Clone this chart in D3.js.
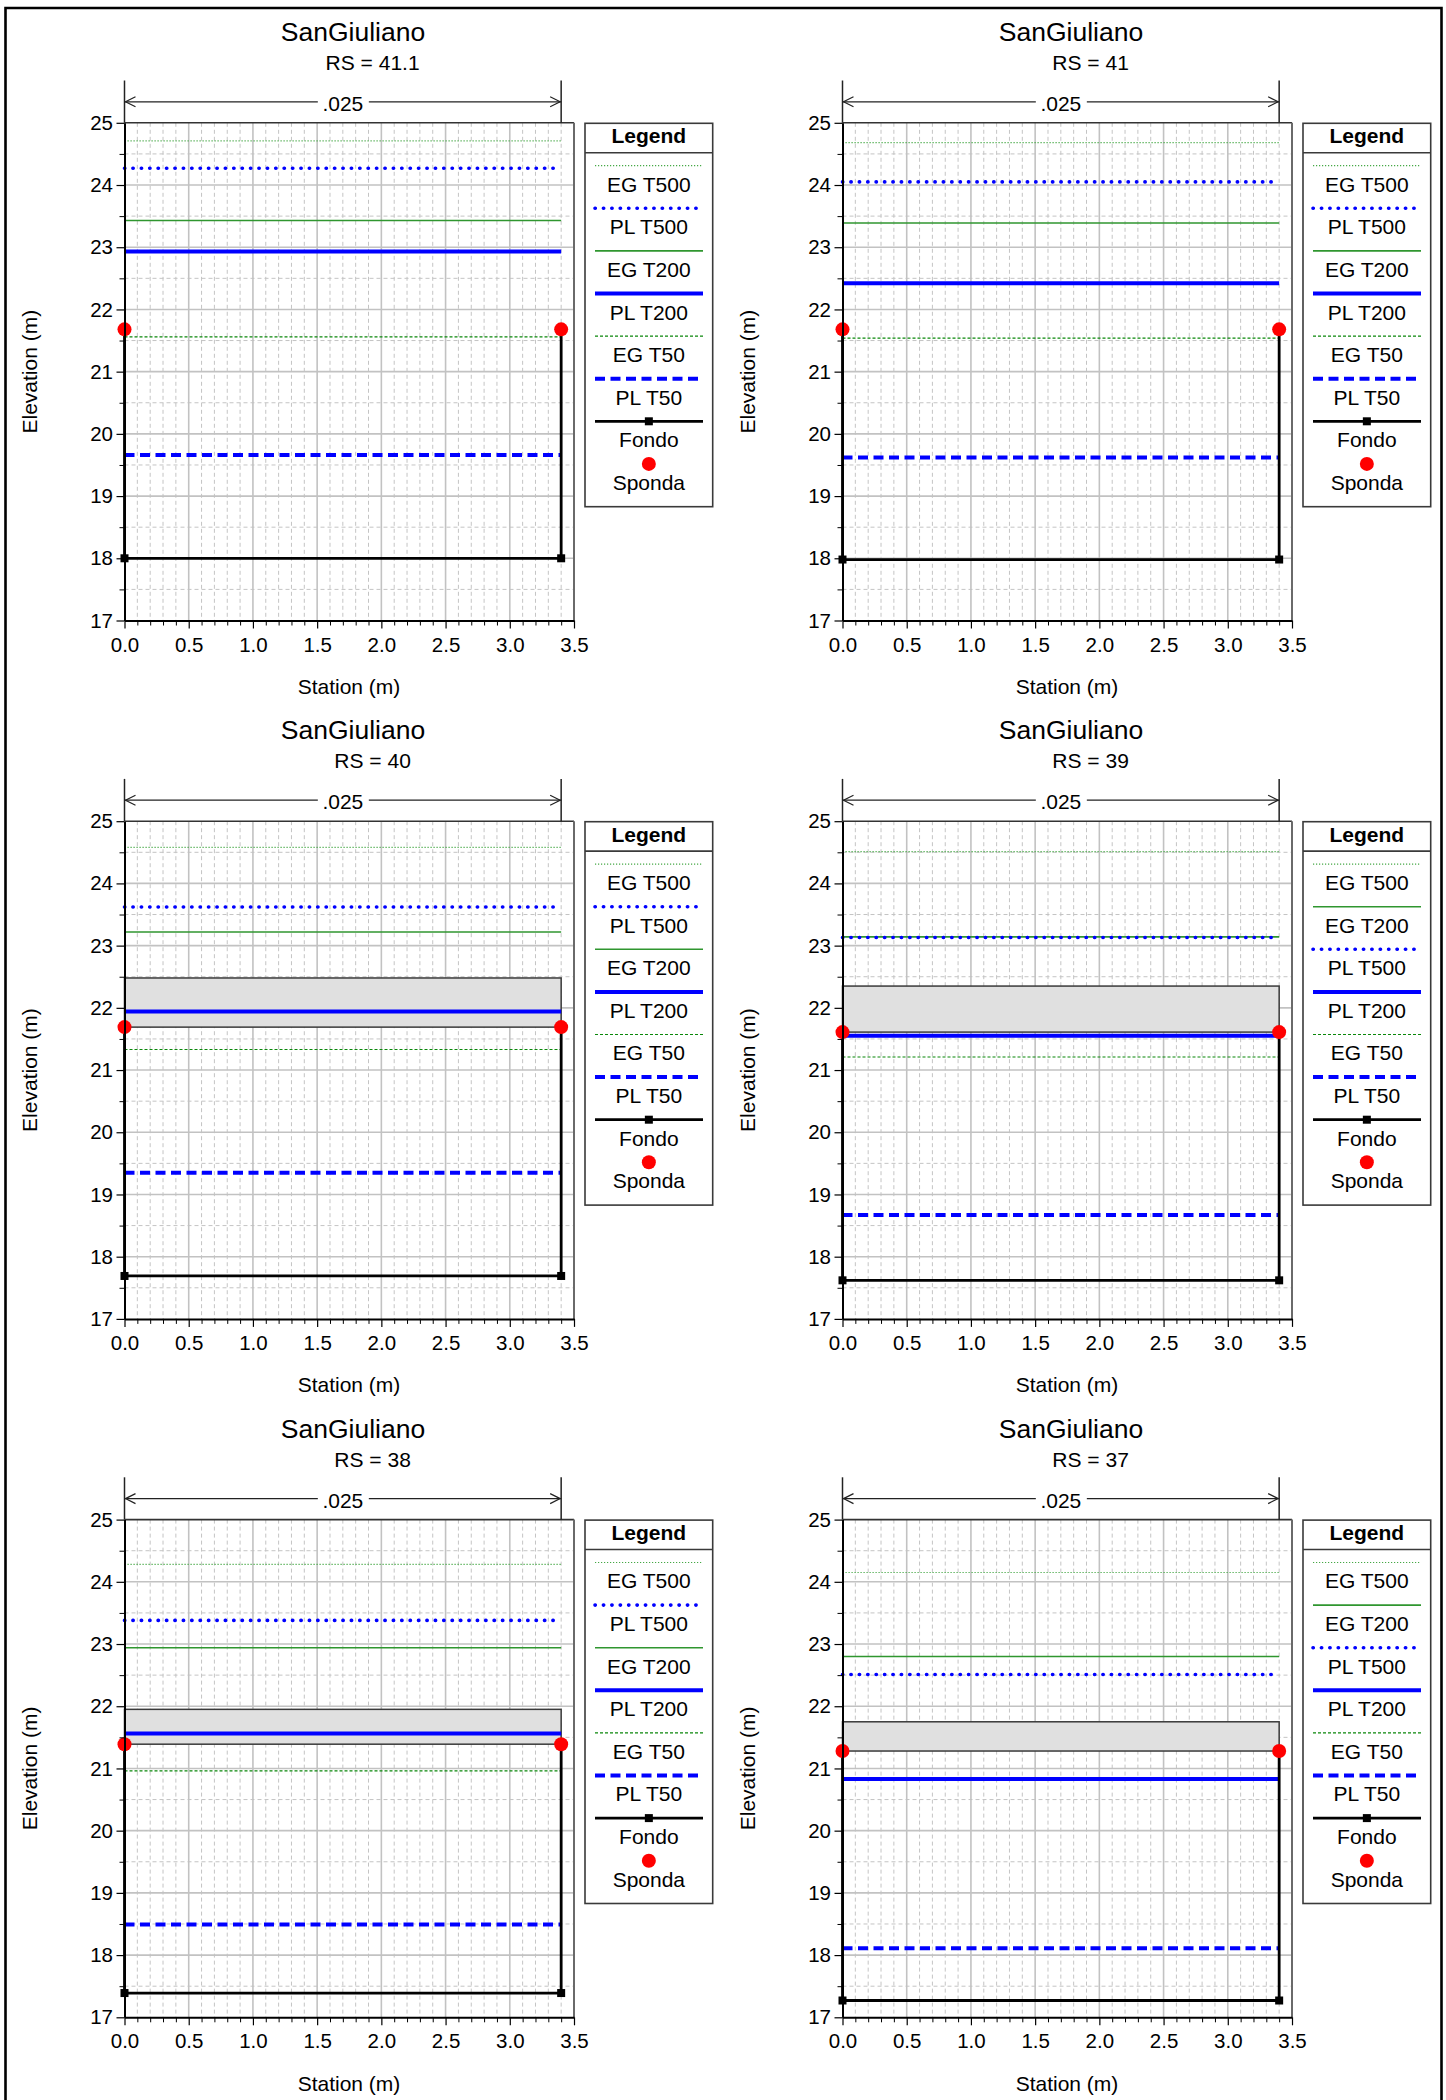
<!DOCTYPE html>
<html>
<head>
<meta charset="utf-8">
<script src="https://cdn.jsdelivr.net/npm/d3@7"></script>
<style>
  html, body { margin: 0; padding: 0; background: #fff; }
  svg { display: block; }
  text { font-family: "Liberation Sans", Arial, sans-serif; fill: #000; }
</style>
</head>
<body>
<svg id="chart" width="1446" height="2100"></svg>
<script>
// ---------------- DATA ----------------
const titleText = "SanGiuliano";
const rsLabels = ["41.1", "41", "40", "39", "38", "37"];
const nValue = ".025";
const bankStations = [0, 3.4];
const egT500 = [24.71, 24.68, 24.58, 24.51, 24.28, 24.15];
const plT500 = [24.27, 24.05, 23.62, 23.13, 23.38, 22.51];
const egT200 = [23.43, 23.39, 23.22, 23.14, 22.94, 22.80];
const plT200 = [22.93, 22.42, 21.94, 21.55, 21.56, 20.83];
const egT50  = [21.56, 21.54, 21.33, 21.21, 20.96, 20.83];
const plT50  = [19.66, 19.62, 19.35, 18.67, 18.49, 18.11];
const fondo  = [18.00, 17.98, 17.69, 17.62, 17.39, 17.27];
const sponda = [21.68, 21.68, 21.69, 21.61, 21.39, 21.28];
const deckHigh = [null, null, 22.48, 22.35, 21.95, 21.75];
const deckLow  = [null, null, 21.69, 21.61, 21.39, 21.28];
const legendOrderA = ["EG T500", "PL T500", "EG T200", "PL T200", "EG T50", "PL T50", "Fondo", "Sponda"];
const legendOrderB = ["EG T500", "EG T200", "PL T500", "PL T200", "EG T50", "PL T50", "Fondo", "Sponda"];
const legendOrders = [legendOrderA, legendOrderA, legendOrderA, legendOrderB, legendOrderA, legendOrderB];
const xTicks = [0, 0.5, 1.0, 1.5, 2.0, 2.5, 3.0, 3.5];
const yTicks = [17, 18, 19, 20, 21, 22, 23, 24, 25];

// ---------------- STYLES ----------------
const lineStyles = {
  "EG T500": { values: egT500, stroke: "#45a845", width: 1.2, dash: "1.2 1.8", cap: "butt" },
  "EG T200": { values: egT200, stroke: "#2f962f", width: 1.6, dash: null, cap: "butt" },
  "EG T50":  { values: egT50,  stroke: "#0a870a", width: 1.2, dash: "3 2", cap: "butt" },
  "PL T500": { values: plT500, stroke: "#0000ff", width: 3.6, dash: "0.3 8.1", cap: "round" },
  "PL T200": { values: plT200, stroke: "#0000ff", width: 4, dash: null, cap: "butt" },
  "PL T50":  { values: plT50,  stroke: "#0000ff", width: 4, dash: "10 5.5", cap: "butt" }
};
const drawOrder = ["EG T500", "EG T200", "EG T50", "PL T500", "PL T200", "PL T50"];

const svg = d3.select("#chart");
svg.append("rect").attr("width", 1446).attr("height", 2100).attr("fill", "#fff");
// outer frame
svg.append("path")
  .attr("d", "M5.5,2110 L5.5,8 L1441.5,8 L1441.5,2110")
  .attr("fill", "none").attr("stroke", "#000").attr("stroke-width", 2.6);

const colOff = [0, 718];
const rowOff = [0, 698.4, 1396.8];
const FONT = "'Liberation Sans', Arial, sans-serif";

rsLabels.forEach((rs, i) => {
  const col = i % 2, row = Math.floor(i / 2);
  const g = svg.append("g").attr("transform", `translate(${colOff[col]},${rowOff[row]})`);
  const x = d3.scaleLinear().domain([0, 3.5]).range([124.5, 574]);
  const y = d3.scaleLinear().domain([17, 25]).range([620.5, 122.8]);
  const [x0, x1] = x.range();
  const [yb, yt] = y.range();

  // titles
  g.append("text").attr("x", 353).attr("y", 40.8).attr("text-anchor", "middle")
    .attr("font-size", 26.5).text(titleText);
  g.append("text").attr("x", 372.6).attr("y", 70).attr("text-anchor", "middle")
    .attr("font-size", 21).text("RS = " + rs);

  // grid - minor
  const minorX = d3.range(1, 35).filter(k => k % 5 !== 0).map(k => k / 10);
  const minorY = d3.range(17.5, 25, 1);
  const grid = g.append("g");
  grid.selectAll("line.mx").data(minorX).join("line")
    .attr("x1", d => x(d)).attr("x2", d => x(d)).attr("y1", yt).attr("y2", yb)
    .attr("stroke", "#c4c4c4").attr("stroke-width", 1).attr("stroke-dasharray", "4 3");
  grid.selectAll("line.my").data(minorY).join("line")
    .attr("y1", d => y(d)).attr("y2", d => y(d)).attr("x1", x0).attr("x2", x1)
    .attr("stroke", "#c4c4c4").attr("stroke-width", 1).attr("stroke-dasharray", "4 3");
  // grid - major
  grid.selectAll("line.Mx").data(xTicks.slice(1, -1)).join("line")
    .attr("x1", d => x(d)).attr("x2", d => x(d)).attr("y1", yt).attr("y2", yb)
    .attr("stroke", "#c2c2c2").attr("stroke-width", 1.6);
  grid.selectAll("line.My").data(yTicks.slice(1, -1)).join("line")
    .attr("y1", d => y(d)).attr("y2", d => y(d)).attr("x1", x0).attr("x2", x1)
    .attr("stroke", "#c2c2c2").attr("stroke-width", 1.6);

  // frame top/right
  g.append("line").attr("x1", x0).attr("x2", x1).attr("y1", yt).attr("y2", yt)
    .attr("stroke", "#333").attr("stroke-width", 1.6);
  g.append("line").attr("x1", x1).attr("x2", x1).attr("y1", yt).attr("y2", yb)
    .attr("stroke", "#6a6a6a").attr("stroke-width", 2);

  // deck (gray block)
  if (deckHigh[i] !== null) {
    g.append("rect")
      .attr("x", x(bankStations[0])).attr("width", x(bankStations[1]) - x(bankStations[0]))
      .attr("y", y(deckHigh[i])).attr("height", y(deckLow[i]) - y(deckHigh[i]))
      .attr("fill", "#e0e0e0").attr("stroke", "#3a3a3a").attr("stroke-width", 1.5);
  }

  // water / energy lines
  drawOrder.forEach(name => {
    const s = lineStyles[name];
    const v = s.values[i];
    const l = g.append("line")
      .attr("x1", x(bankStations[0])).attr("x2", x(bankStations[1]))
      .attr("y1", y(v)).attr("y2", y(v))
      .attr("stroke", s.stroke).attr("stroke-width", s.width)
      .attr("stroke-linecap", s.cap);
    if (s.dash) l.attr("stroke-dasharray", s.dash);
  });

  // ground (Fondo)
  const groundPts = [
    [bankStations[0], sponda[i]], [bankStations[0], fondo[i]],
    [bankStations[1], fondo[i]], [bankStations[1], sponda[i]]
  ];
  g.append("path").attr("d", d3.line().x(d => x(d[0])).y(d => y(d[1]))(groundPts))
    .attr("fill", "none").attr("stroke", "#000").attr("stroke-width", 2.8);
  g.selectAll("rect.gm").data(groundPts).join("rect")
    .attr("x", d => x(d[0]) - 4).attr("y", d => y(d[1]) - 4)
    .attr("width", 8).attr("height", 8).attr("fill", "#000");
  // banks (Sponda)
  g.selectAll("circle.bk").data(bankStations).join("circle")
    .attr("cx", d => x(d)).attr("cy", y(sponda[i])).attr("r", 7).attr("fill", "#ff0000");

  // axes
  const xAxis = g.append("g").attr("transform", `translate(0,${yb})`)
    .call(d3.axisBottom(x).tickValues(xTicks).tickFormat(d3.format(".1f"))
      .tickSize(8).tickSizeOuter(0).tickPadding(8.5));
  const xMinor = g.append("g").attr("transform", `translate(0,${yb})`)
    .call(d3.axisBottom(x).tickValues(minorX).tickFormat("").tickSize(5).tickSizeOuter(0));
  xMinor.select(".domain").remove();
  const yAxis = g.append("g").attr("transform", `translate(${x0},0)`)
    .call(d3.axisLeft(y).tickValues(yTicks).tickFormat(d3.format("d"))
      .tickSize(8).tickSizeOuter(0).tickPadding(3.5));
  const yMinor = g.append("g").attr("transform", `translate(${x0},0)`)
    .call(d3.axisLeft(y).tickValues(minorY).tickFormat("").tickSize(5).tickSizeOuter(0));
  yMinor.select(".domain").remove();
  [xAxis, yAxis].forEach(a => {
    a.attr("font-size", 20.5).attr("font-family", FONT);
    a.select(".domain").attr("stroke", "#000").attr("stroke-width", 2);
    a.selectAll(".tick line").attr("stroke", "#000").attr("stroke-width", 1.2);
    a.selectAll(".tick text").attr("fill", "#000");
  });
  [xMinor, yMinor].forEach(a => a.selectAll(".tick line").attr("stroke", "#000").attr("stroke-width", 1));

  // axis titles
  g.append("text").attr("x", 349).attr("y", 694).attr("text-anchor", "middle")
    .attr("font-size", 21).text("Station (m)");
  g.append("text").attr("transform", `translate(36.5,${(yt + yb) / 2}) rotate(-90)`)
    .attr("text-anchor", "middle").attr("font-size", 21).text("Elevation (m)");

  // n-value dimension line
  const xl = x(bankStations[0]), xr = x(bankStations[1]);
  const yd = 101.8, xm = (xl + xr) / 2;
  g.append("line").attr("x1", xl).attr("x2", xl).attr("y1", 80.5).attr("y2", yt).attr("stroke", "#222").attr("stroke-width", 1.5);
  g.append("line").attr("x1", xr).attr("x2", xr).attr("y1", 80.5).attr("y2", yt).attr("stroke", "#222").attr("stroke-width", 1.5);
  g.append("line").attr("x1", xl).attr("x2", xm - 25).attr("y1", yd).attr("y2", yd).attr("stroke", "#222").attr("stroke-width", 1.3);
  g.append("line").attr("x1", xm + 26).attr("x2", xr).attr("y1", yd).attr("y2", yd).attr("stroke", "#222").attr("stroke-width", 1.3);
  g.append("path").attr("d", `M${xl + 11},${yd - 5} L${xl + 1},${yd} L${xl + 11},${yd + 5}`)
    .attr("fill", "none").attr("stroke", "#222").attr("stroke-width", 1.2);
  g.append("path").attr("d", `M${xr - 11},${yd - 5} L${xr - 1},${yd} L${xr - 11},${yd + 5}`)
    .attr("fill", "none").attr("stroke", "#222").attr("stroke-width", 1.2);
  g.append("text").attr("x", xm).attr("y", 111).attr("text-anchor", "middle")
    .attr("font-size", 21).text(nValue);

  // legend
  const lg = g.append("g");
  const lx0 = 585, lx1 = 712.7, ly0 = 123.3, ly1 = 506.7;
  lg.append("rect").attr("x", lx0).attr("y", ly0).attr("width", lx1 - lx0).attr("height", ly1 - ly0)
    .attr("fill", "#fff").attr("stroke", "#3a3a3a").attr("stroke-width", 1.6);
  lg.append("line").attr("x1", lx0).attr("x2", lx1).attr("y1", 152.7).attr("y2", 152.7)
    .attr("stroke", "#3a3a3a").attr("stroke-width", 1.6);
  const lcx = (lx0 + lx1) / 2;
  lg.append("text").attr("x", lcx).attr("y", 143.3).attr("text-anchor", "middle")
    .attr("font-size", 21).attr("font-weight", "bold").text("Legend");
  legendOrders[i].forEach((name, k) => {
    const ly = 165.7 + k * 42.6;
    if (lineStyles[name]) {
      const s = lineStyles[name];
      const l = lg.append("line").attr("x1", lx0 + 10).attr("x2", lx0 + 118)
        .attr("y1", ly).attr("y2", ly).attr("stroke", s.stroke).attr("stroke-width", s.width)
        .attr("stroke-linecap", s.cap);
      if (s.dash) l.attr("stroke-dasharray", s.dash);
    } else if (name === "Fondo") {
      lg.append("line").attr("x1", lx0 + 10).attr("x2", lx0 + 118)
        .attr("y1", ly).attr("y2", ly).attr("stroke", "#000").attr("stroke-width", 2.8);
      lg.append("rect").attr("x", lcx - 4).attr("y", ly - 4).attr("width", 8).attr("height", 8).attr("fill", "#000");
    } else {
      lg.append("circle").attr("cx", lcx).attr("cy", ly).attr("r", 7).attr("fill", "#ff0000");
    }
    lg.append("text").attr("x", lcx).attr("y", ly + 26).attr("text-anchor", "middle")
      .attr("font-size", 21).text(name);
  });
});
</script>
</body>
</html>
